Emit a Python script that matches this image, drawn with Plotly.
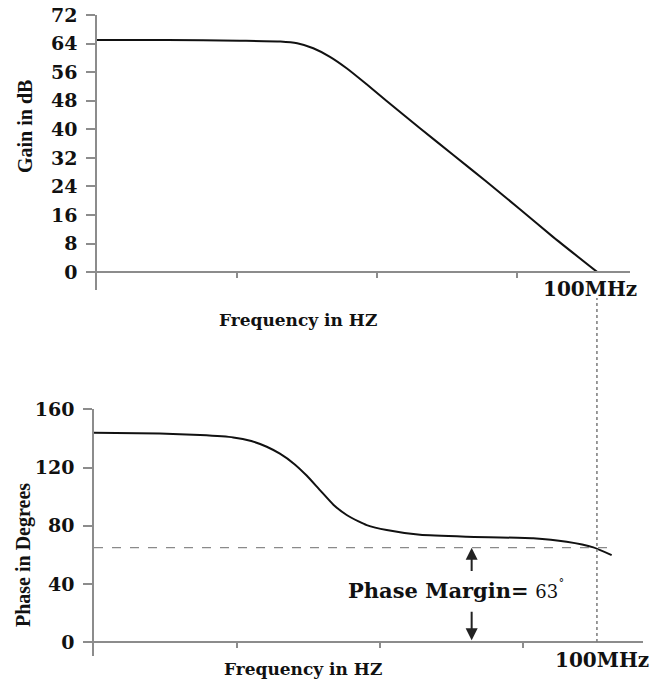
import plotly.graph_objects as go

W, H = 665, 683

# ---- data (x in decades from the first axis position) ----
gain_x = [0, 0.5, 1.02, 1.31, 1.43, 1.545, 1.664, 1.783, 1.926, 2.069, 2.307, 2.545, 2.783, 3.021, 3.259, 3.574]
gain_y = [65.0, 65.0, 64.8, 64.6, 64.1, 62.7, 60.3, 57.1, 52.6, 47.9, 40.3, 32.8, 25.3, 17.6, 9.8, 0.0]

phase_x = [0, 0.46, 0.741, 0.974, 1.1, 1.208, 1.3, 1.4, 1.487, 1.58, 1.674, 1.767, 1.85, 1.907, 2.047, 2.28, 2.606, 3.072, 3.305, 3.492, 3.62]
phase_y = [143.9, 143.4, 142.3, 140.7, 138.2, 134.3, 129.5, 122.5, 114.5, 104.5, 94.5, 87.4, 83.0, 80.5, 77.1, 73.8, 72.5, 71.4, 69.0, 65.2, 59.9]

gain_ticks = [0, 8, 16, 24, 32, 40, 48, 56, 64, 72]
phase_ticks = [0, 40, 80, 120, 160]
freq_ticks = [1, 2, 3]
unity_gain_x_bot = 3.517
pm_level = 65
pm_arrow_x = 2.641
pm_line_end = 3.62

def px(p):
    return p / W

def py(p):
    return 1 - p / H

AXC = "#8c8c8c"
TICKFONT = dict(family="DejaVu Serif", size=19, color="#111111", weight="bold")
MHZFONT = dict(family="DejaVu Serif", size=20, color="#111111", weight="bold")

fig = go.Figure()
fig.add_trace(go.Scatter(x=gain_x, y=gain_y, mode="lines", line=dict(color="#111111", width=2, shape="spline", smoothing=0.5),
                         xaxis="x", yaxis="y", showlegend=False, hoverinfo="skip"))
fig.add_trace(go.Scatter(x=phase_x, y=phase_y, mode="lines", line=dict(color="#111111", width=2, shape="spline", smoothing=0.5),
                         xaxis="x2", yaxis="y2", showlegend=False, hoverinfo="skip"))

common_x = dict(showline=True, linecolor=AXC, linewidth=1.5, showgrid=False, zeroline=False,
                tickvals=freq_ticks, ticks="outside", ticklen=5, tickcolor=AXC, tickwidth=1.5,
                showticklabels=False, anchor="free", fixedrange=True, automargin=False)
common_y = dict(showline=True, linecolor=AXC, linewidth=1.5, showgrid=False, zeroline=False,
                ticks="outside", ticklen=9, tickcolor=AXC, tickwidth=1.5, tickfont=TICKFONT,
                ticklabelstandoff=5, fixedrange=True, automargin=False)

fig.update_layout(
    width=W, height=H, autosize=False,
    margin=dict(l=0, r=0, t=0, b=0, pad=0, autoexpand=False),
    paper_bgcolor="white", plot_bgcolor="white",
    xaxis=dict(common_x, domain=[px(97), px(630)], range=[0, 533 / 140], position=py(272)),
    yaxis=dict(common_y, domain=[py(290), py(15)], range=[-5, 72], tickvals=gain_ticks, anchor="x"),
    xaxis2=dict(common_x, domain=[px(94), px(643)], range=[0, 549 / 143], position=py(642.3)),
    yaxis2=dict(common_y, domain=[py(656), py(409.3)], range=[-9.4, 160], tickvals=phase_ticks, anchor="x2"),
)

# reference lines
fig.add_shape(type="line", xref="x2", yref="y2", x0=0, x1=pm_line_end, y0=pm_level, y1=pm_level,
              line=dict(color="#8a8a8a", width=1.3, dash="dash"))
fig.add_shape(type="line", xref="x2", yref="paper", x0=unity_gain_x_bot, x1=unity_gain_x_bot,
              y0=py(642), y1=py(298), line=dict(color="#7a7a7a", width=1.5, dash="dot"))

TITLE_X = dict(family="DejaVu Serif", size=17, color="#111111", weight="bold")
TITLE_Y = dict(family="Liberation Serif", size=20, color="#111111", weight="bold")

ann = [
    dict(text="Gain in dB", x=px(25), y=py(127), textangle=-90, font=TITLE_Y),
    dict(text="Phase in Degrees", x=px(23), y=py(555), textangle=-90, font=TITLE_Y),
    dict(text="Frequency in HZ", x=px(298), y=py(320), font=TITLE_X),
    dict(text="Frequency in HZ", x=px(303), y=py(669), font=TITLE_X),
    dict(text="100MHz", x=px(590), y=py(289), font=MHZFONT),
    dict(text="100MHz", x=px(602), y=py(660), font=MHZFONT),
    dict(text="<b>Phase Margin=</b> <span style='font-size:18px'>63<sup>˚</sup></span>", x=px(346), y=py(590), xanchor="left",
         font=dict(family="DejaVu Serif", size=21, color="#111111")),
]
for a in ann:
    a.setdefault("xanchor", "center")
    fig.add_annotation(xref="paper", yref="paper", showarrow=False, yanchor="middle", **a)

# margin arrows
fig.add_annotation(xref="x2", yref="y2", axref="x2", ayref="y2", x=pm_arrow_x, y=pm_level, ax=pm_arrow_x, ay=48,
                   text="", showarrow=True, arrowhead=2, arrowsize=1.2, arrowwidth=2, arrowcolor="#222222")
fig.add_annotation(xref="x2", yref="y2", axref="x2", ayref="y2", x=pm_arrow_x, y=1.5, ax=pm_arrow_x, ay=22,
                   text="", showarrow=True, arrowhead=2, arrowsize=1.2, arrowwidth=2, arrowcolor="#222222")

fig.write_html("out.html", config={"displayModeBar": False},
               post_script="document.body.style.margin='0';document.body.style.overflow='hidden';")
